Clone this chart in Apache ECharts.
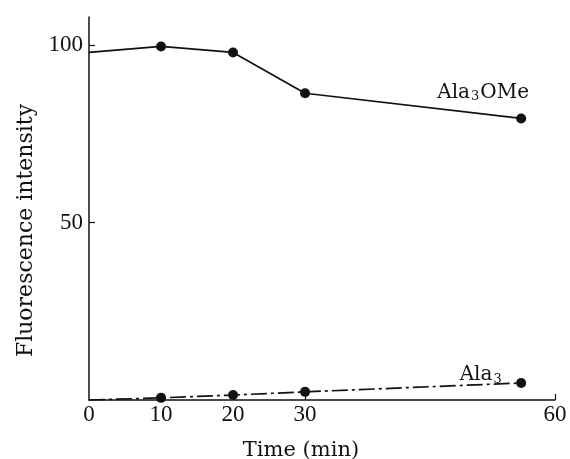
<!DOCTYPE html>
<html><head><meta charset="utf-8">
<script src="https://cdn.jsdelivr.net/npm/echarts@6/dist/echarts.min.js"></script>
<style>html,body{margin:0;padding:0;background:#fff}#c{width:570px;height:459px}</style>
</head><body><div id="c"></div>
<script>
const timeMin = [0, 10, 20, 30, 60];
const ala3OMe = [98, 99.7, 98, 86.5, 79.4];
const ala3 = [0, 0.6, 1.4, 2.3, 4.8];
const xTickValues = [0, 10, 20, 30, 64.7];
const xTickLabels = ['0', '10', '20', '30', '60'];
const yTickValues = [50, 100];
const seriesNames = ['Ala3OMe', 'Ala3'];

const serif = 'Liberation Serif';
const nameFont = 'DejaVu Serif';
const ink = '#111';

function pairs(ys) { return timeMin.map((t, i) => [t, ys[i]]); }
const last = timeMin.length - 1;

const chart = echarts.init(document.getElementById('c'), null, {renderer: 'canvas'});
const rich = {
  n: {fontFamily: nameFont, fontSize: 20, color: ink},
  s: {fontFamily: nameFont, fontSize: 13, color: ink, padding: [9, 1, 0, 1]}
};
chart.setOption({
  backgroundColor: '#fff',
  animation: false,
  grid: {left: 89, right: 15, top: 17, bottom: 59, containLabel: false, outerBoundsMode: 'none'},
  xAxis: {
    type: 'value', min: 0, max: 64.7,
    name: 'Time (min)', nameLocation: 'middle', nameGap: 40,
    nameTextStyle: {fontFamily: nameFont, fontSize: 21, color: ink, padding: [0, 42, 0, 0]},
    axisLine: {lineStyle: {color: ink, width: 1.5}},
    axisTick: {inside: true, length: 6, customValues: xTickValues.slice(1), lineStyle: {color: ink, width: 1.2}},
    axisLabel: {customValues: xTickValues, fontFamily: serif, fontSize: 23, color: ink, margin: 3,
      formatter: v => xTickLabels[xTickValues.indexOf(v)] ?? ''},
    splitLine: {show: false}
  },
  yAxis: {
    type: 'value', min: 0, max: 108,
    name: 'Fluorescence intensity', nameLocation: 'middle', nameGap: 50,
    nameTextStyle: {fontFamily: nameFont, fontSize: 22, color: ink, padding: [0, 44, 0, 0]},
    axisLine: {show: true, lineStyle: {color: ink, width: 1.5}},
    axisTick: {inside: true, length: 6, customValues: yTickValues, lineStyle: {color: ink, width: 1.2}},
    axisLabel: {customValues: yTickValues, fontFamily: serif, fontSize: 23, color: ink, margin: 6},
    splitLine: {show: false}
  },
  series: [
    {
      name: seriesNames[0], type: 'line', data: pairs(ala3OMe),
      symbol: 'circle', symbolSize: (v, p) => p.dataIndex === 0 ? 0 : 10,
      itemStyle: {color: ink},
      lineStyle: {color: ink, width: 1.7},
      label: {show: true, position: 'top', distance: 5, offset: [-38, -5], rich,
        formatter: p => p.dataIndex === last ? '{n|Ala}{s|3}{n|OMe}' : ''}
    },
    {
      name: seriesNames[1], type: 'line', data: pairs(ala3),
      symbol: 'circle', symbolSize: (v, p) => p.dataIndex === 0 ? 0 : 10,
      itemStyle: {color: ink},
      lineStyle: {color: ink, width: 1.7, type: [16, 4, 3, 4]},
      label: {show: true, position: 'top', distance: 5, offset: [-40, 13], rich,
        formatter: p => p.dataIndex === last ? '{n|Ala}{s|3}' : ''}
    }
  ]
});
</script></body></html>
